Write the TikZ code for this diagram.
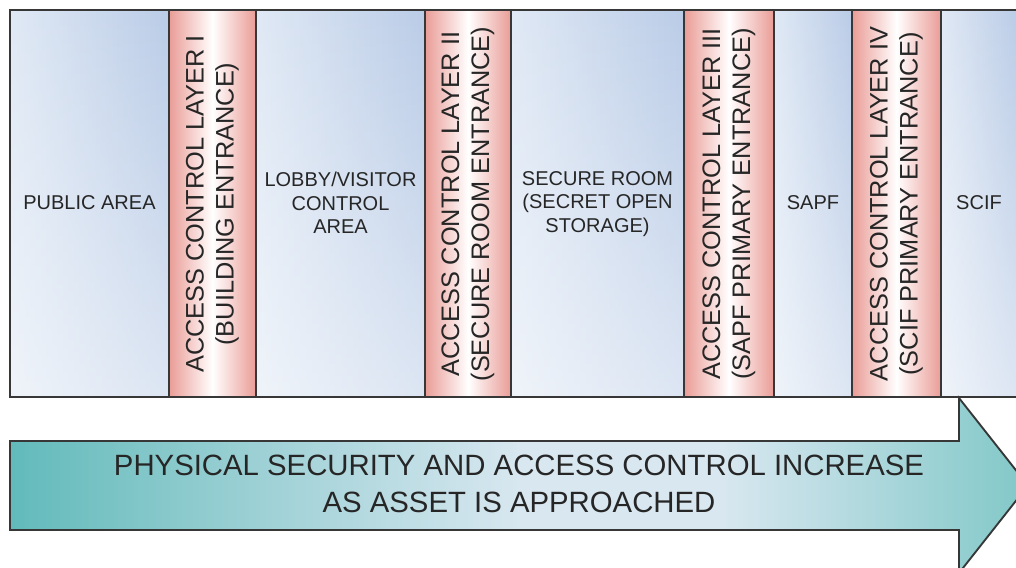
\documentclass[tikz,border=0pt]{standalone}
\usepackage{fontspec}
\setmainfont{Liberation Sans}
\usetikzlibrary{fadings}
\definecolor{zoneblue}{RGB}{186,204,231}
\definecolor{zonepale}{RGB}{224,233,245}
\definecolor{layerred}{RGB}{234,156,150}
\definecolor{arrowteal}{RGB}{98,186,186}
\definecolor{arrowpale}{RGB}{216,231,240}
\definecolor{edgegray}{RGB}{55,55,55}
\pgfdeclarehorizontalshading{trendshade}{100bp}{color(0bp)=(arrowteal); color(25bp)=(arrowteal);
  color(36bp)=(arrowteal!55!arrowpale); color(50bp)=(arrowpale); color(60bp)=(arrowpale);
  color(75bp)=(arrowteal!80!white); color(100bp)=(arrowteal!80!white)}
\tikzset{
  zone/.style={left color=zonepale, right color=zoneblue},
  layer/.style={left color=layerred, right color=layerred, middle color=white,
                draw=edgegray, line width=1.4pt},
  edge/.style={draw=edgegray, line width=1.4pt},
  zonetext/.style={align=center, text=black!85, font=\fontsize{15}{17.5}\selectfont},
  layertext/.style={rotate=90, align=center, text=black!85, font=\fontsize{19}{22.5}\selectfont},
  trendtext/.style={align=center, text=black!85, font=\fontsize{22}{27.75}\selectfont},
}

\begin{document}
\begin{tikzpicture}[x=0.75pt,y=-0.75pt]
      \useasboundingbox (0,0) rectangle (1016,567);
      \clip (0,0) rectangle (1016,567);

      % zones
      \shade[zone] (10,10) rectangle (169,397);
      \shade[zone] (256,10) rectangle (425,397);
      \shade[zone] (511,10) rectangle (684,397);
      \shade[zone] (774,10) rectangle (852,397);
      \shade[zone] (941,10) rectangle (1018,397);
      \fill[white, path fading=north, fill opacity=0.5] (10,10) rectangle (1018,397);
      \draw[edge] (10,10) rectangle (1018,397);

      % access control layers
      \shade[layer] (169,10) rectangle (256,397);
      \shade[layer] (425,10) rectangle (511,397);
      \shade[layer] (684,10) rectangle (774,397);
      \shade[layer] (852,10) rectangle (941,397);

      \node[zonetext] (public) at (89.5,203) {PUBLIC AREA};
      \node[layertext] (layerI) at (212.5,204) {ACCESS CONTROL LAYER I\\(BUILDING ENTRANCE)};
      \node[zonetext] (lobby) at (340.5,203) {LOBBY/VISITOR\\CONTROL\\AREA};
      \node[zonetext] (secure) at (597.5,204) {SECURE ROOM\\(SECRET OPEN\\STORAGE)};
      \node[layertext] (layerII) at (468,204) {ACCESS CONTROL LAYER II\\(SECURE ROOM ENTRANCE)};
      \node[layertext] (layerIII) at (729,204) {ACCESS CONTROL LAYER III\\(SAPF PRIMARY ENTRANCE)};
      \node[zonetext] (sapf) at (813,203) {SAPF};
      \node[layertext] (layerIV) at (896.5,204) {ACCESS CONTROL LAYER IV\\(SCIF PRIMARY ENTRANCE)};
      \node[zonetext] (scif) at (979,203) {SCIF};

      % arrow
      \shade[shading=trendshade, edge]
        (10,441) -- (959,441) -- (959,398) -- (1028,485.5) -- (959,573) -- (959,530) -- (10,530) -- cycle;
      \node[trendtext] (trend) at (519,484) {PHYSICAL SECURITY AND ACCESS CONTROL INCREASE\\AS ASSET IS APPROACHED};
    \end{tikzpicture}
\end{document}
